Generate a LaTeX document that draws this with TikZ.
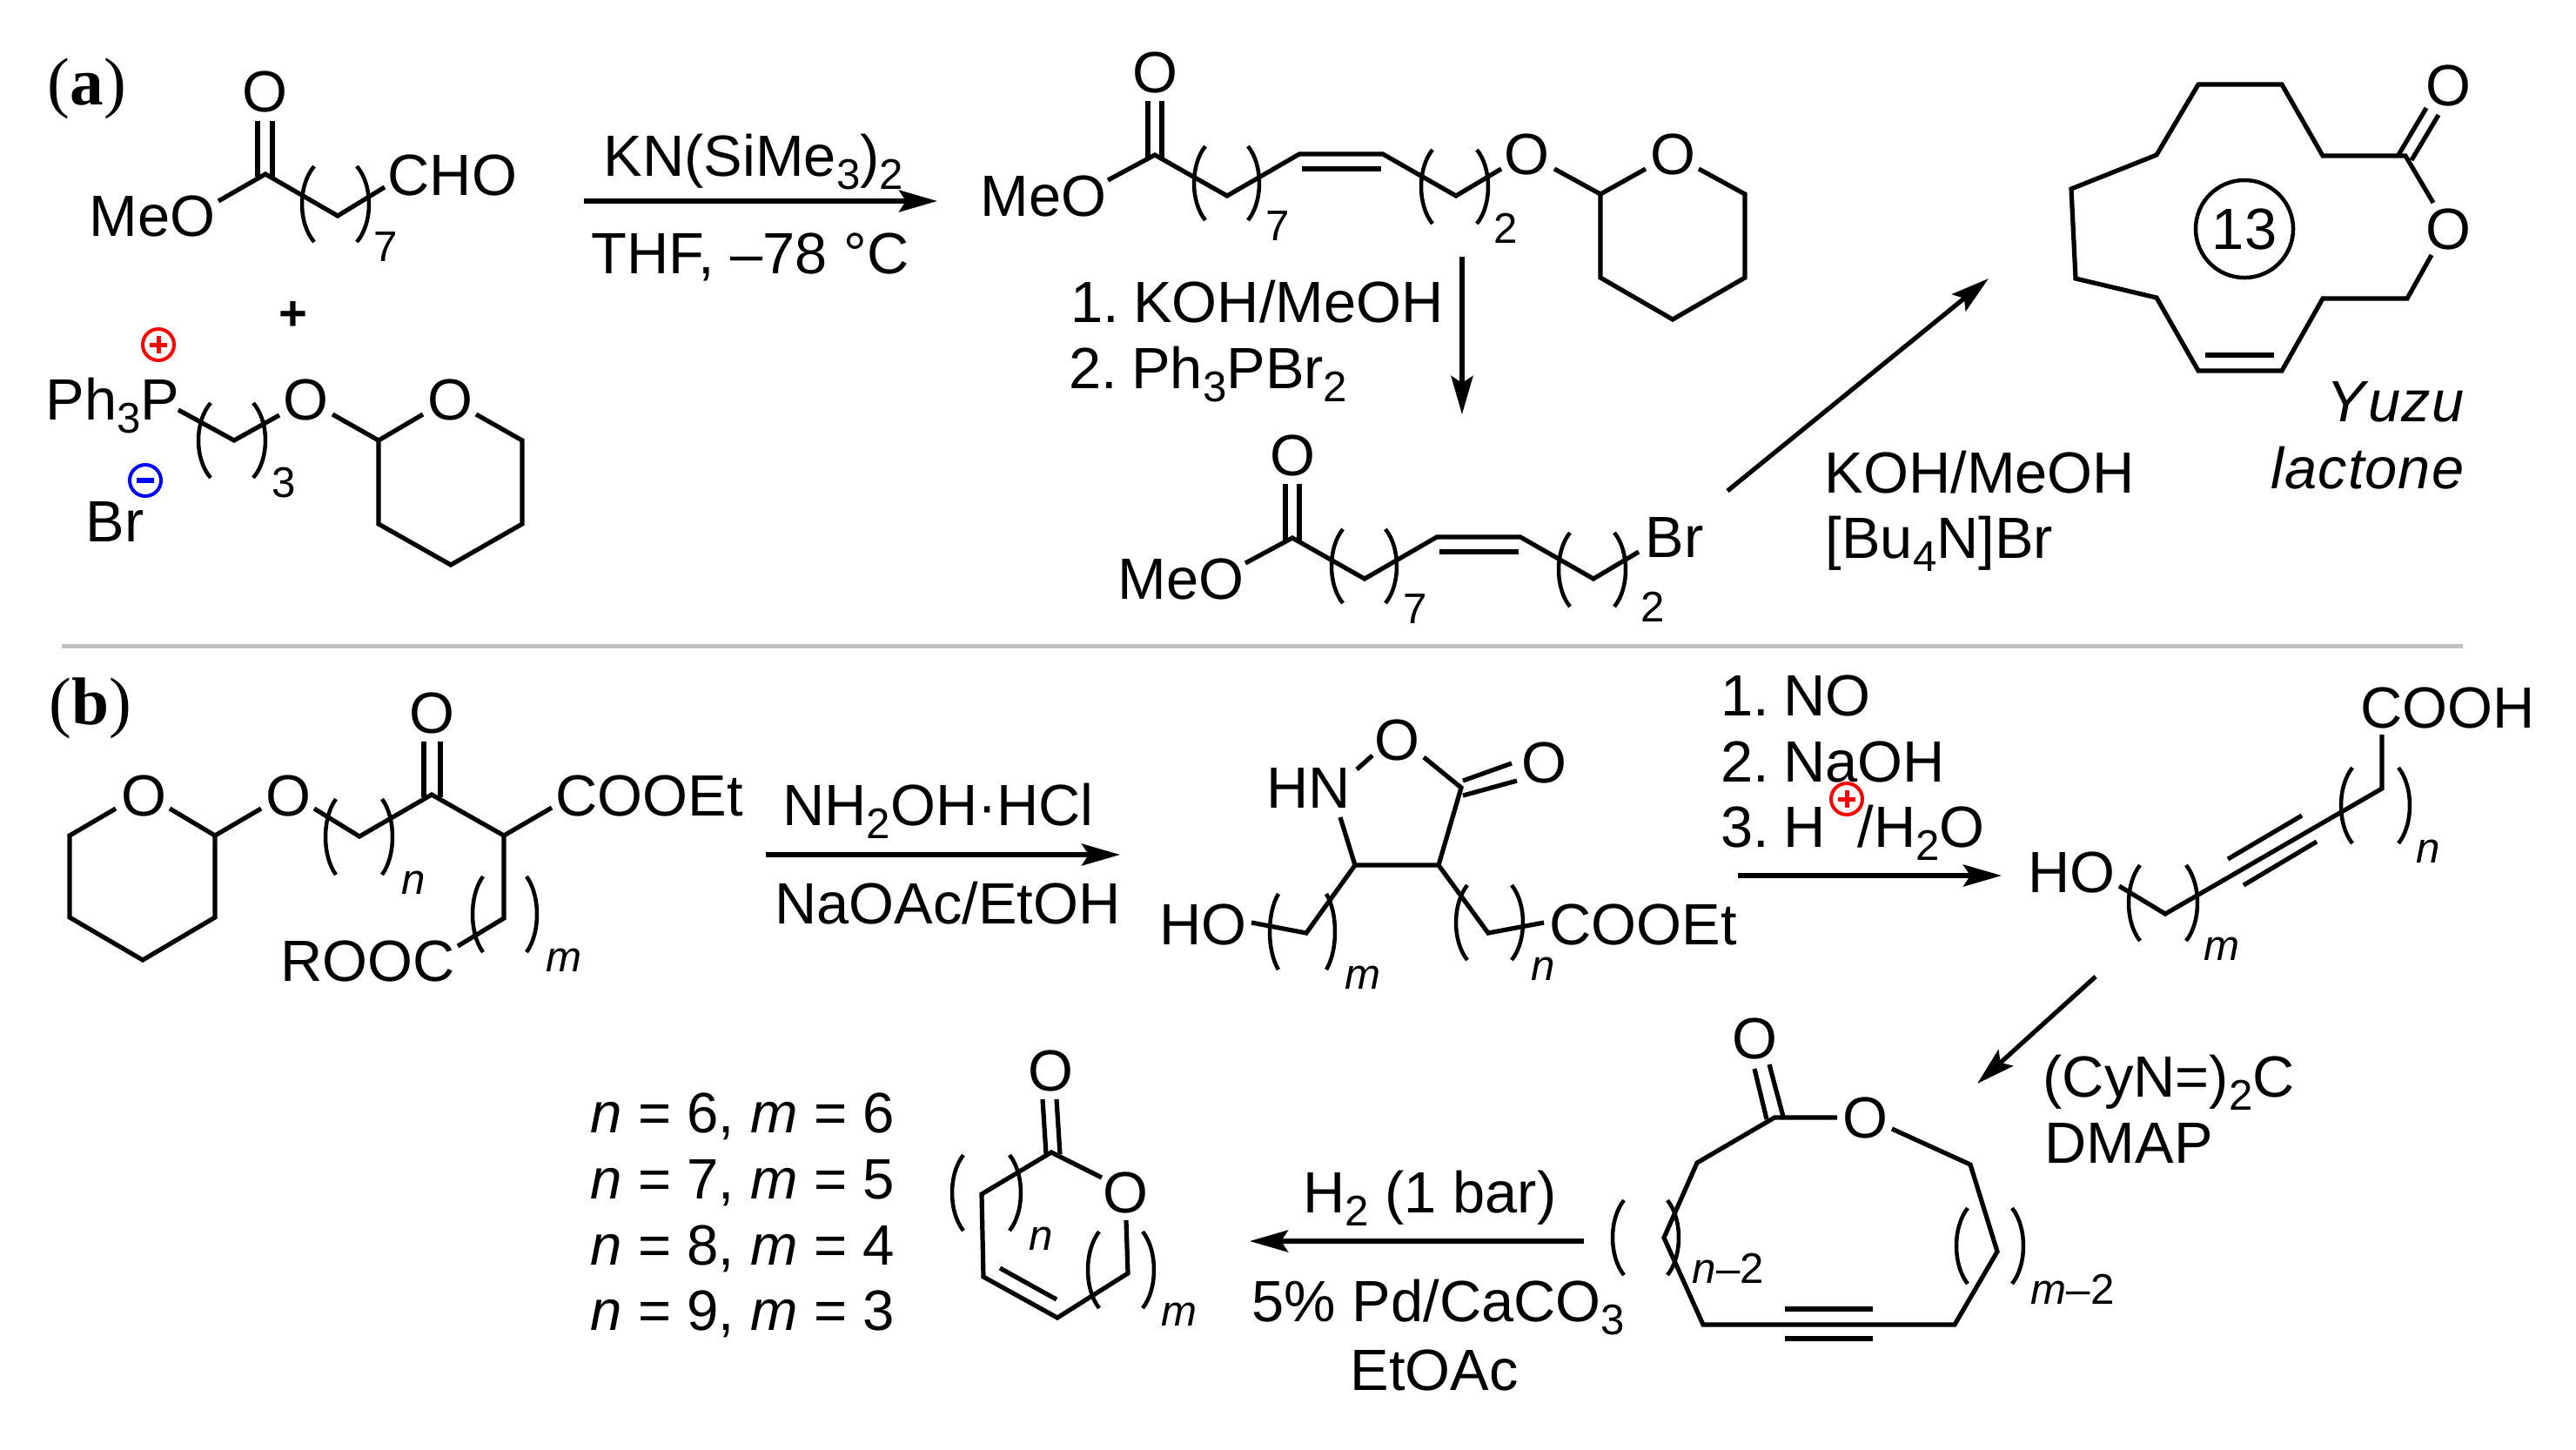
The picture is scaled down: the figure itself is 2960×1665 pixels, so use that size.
\documentclass[tikz,border=0pt]{standalone}
\usepackage{fontspec}
\setmainfont{Liberation Sans}
\newfontfamily\tagfont{Liberation Serif}
\usetikzlibrary{arrows.meta}

\definecolor{sepgray}{RGB}{191,191,191}

\tikzset{
    bond/.style={line width=.052cm, line join=miter},
    brk/.style={line width=.045cm},
    rxn/.style={line width=.052cm, -{Stealth[length=.44cm, width=.25cm, inset=.08cm]}},
    atom/.style={anchor=base west, inner sep=0pt, font=\fontsize{19}{22}\selectfont},
    atomc/.style={atom, anchor=base},
    vals/.style={atom, font=\fontsize{18.6}{22}\selectfont},
    idx/.style={anchor=base west, inner sep=0pt, font=\fontsize{14}{14}\selectfont},
    idxit/.style={idx, font=\fontsize{14}{14}\selectfont\itshape},
    tag/.style={anchor=base west, inner sep=0pt, font=\fontsize{22}{24}\selectfont\tagfont},
    trivial/.style={atom, anchor=base east, font=\fontsize{19}{22}\selectfont\itshape\addfontfeatures{LetterSpace=1.5}},
}

% subscript inside a label
\newcommand{\sbs}[1]{\raisebox{-.23em}{\fontsize{14}{14}\selectfont #1}}
% gap after the number of a numbered step
\newcommand{\stepgap}{\hspace{.16cm}}
% pair of brackets: x left, x right, y top, y bottom, bulge
\newcommand{\brackets}[5]{
    \draw[brk] (#1,#3) .. controls ({#1-1.33*#5},{#3+(#4-#3)/4}) and ({#1-1.33*#5},{#4-(#4-#3)/4}) .. (#1,#4);
    \draw[brk] (#2,#3) .. controls ({#2+1.33*#5},{#3+(#4-#3)/4}) and ({#2+1.33*#5},{#4-(#4-#3)/4}) .. (#2,#4);
}
% charge signs
\newcommand{\chargeplus}[2]{
    \draw[line width=.04cm, red] (#1,#2) circle (.18cm);
    \draw[line width=.05cm, red] (#1-10,#2) -- (#1+10,#2) (#1,#2-10) -- (#1,#2+10);
}
\newcommand{\chargeminus}[2]{
    \draw[line width=.04cm, blue] (#1,#2) circle (.18cm);
    \draw[line width=.055cm, blue] (#1-10,#2) -- (#1+10,#2);
}
% unsaturated ester shared by two of the compounds
\newcommand{\esterchain}{
    \node[atomc] (carbonylO) at (1327,106) {O};
    \node[atom] (meo) at (1126,248) {MeO};
    \draw[bond] (1319,116) -- (1319,181);
    \draw[bond] (1335,116) -- (1335,181);
    \draw[bond] (1273,207) -- (1327,178) -- (1410,225) -- (1493,177) -- (1589,177) -- (1673,225) -- (1725,194);
    \draw[bond] (1496,194) -- (1587,194);
    \brackets{1385}{1434}{168}{253}{13}
    \brackets{1646}{1697}{172}{257}{13}
    \node[idx] (countseven) at (1454,276) {7};
}

\begin{document}
\begin{tikzpicture}[x=.01cm, y=-.01cm]
    \useasboundingbox (0,0) rectangle (2960,1665);

    % separator
    \coordinate (sepL) at (71,742);
    \coordinate (sepR) at (2830,742);
    \draw[sepgray, line width=.05cm] (sepL) -- (sepR);

    % part a
    \node[tag] (tagA) at (54,120) {(\textbf{a})};

    % aldehyde
    \node[atomc] (aldO) at (304,128) {O};
    \node[atom] (aldMeO) at (102,271) {MeO};
    \node[atom] (cho) at (445,224) {CHO};
    \draw[bond] (296,139) -- (296,203);
    \draw[bond] (313,139) -- (313,203);
    \draw[bond] (251,231) -- (305,200) -- (388,248) -- (442,215);
    \brackets{361}{410}{191}{278}{14}
    \node[idx] (aldCount) at (429,300) {7};

    \node[font=\fontsize{16}{18}\selectfont\bfseries, inner sep=0pt] (plus) at (337,363) {+};

    % phosphonium salt
    \chargeplus{182}{396}
    \node[atom] (phos) at (52,482) {Ph\sbs{3}P};
    \node[atomc] (phosO) at (351,482) {O};
    \draw[bond] (205,471) -- (269,506) -- (321,477);
    \brackets{242}{291}{463}{549}{14}
    \node[idx] (phosCount) at (312,571) {3};
    \chargeminus{167}{552}
    \node[atom] (bromide) at (98,622) {Br};
    \node[atomc] (pyranO) at (517,482) {O};
    \draw[bond] (382,476) -- (435,506) -- (486,476);
    \draw[bond] (547,476) -- (600,506) -- (600,602) -- (518,649) -- (435,602) -- (435,506);

    % first step
    \coordinate (stepAs) at (671,231);
    \coordinate (stepAe) at (1077,231);
    \draw[rxn] (stepAs) -- (stepAe);
    \node[atomc] (stepAtop) at (866,202) {KN(SiMe\sbs{3})\sbs{2}};
    \node[atomc] (stepAbot) at (862,314) {THF, –78 °C};

    % ether product
    \begin{scope}[name prefix=ether-]
        \esterchain
    \end{scope}
    \node[idx] (etherTwo) at (1716,279) {2};
    \node[atomc] (etherO) at (1754,200) {O};
    \node[atomc] (etherRingO) at (1922,200) {O};
    \draw[bond] (1786,194) -- (1839,223) -- (1891,194);
    \draw[bond] (1952,194) -- (2005,223) -- (2005,319) -- (1922,367) -- (1839,319) -- (1839,223);

    % second step
    \coordinate (stepBs) at (1680,295);
    \coordinate (stepBe) at (1680,476);
    \draw[rxn] (stepBs) -- (stepBe);
    \node[atom] (stepBone) at (1230,370) {1.\stepgap KOH/MeOH};
    \node[atom] (stepBtwo) at (1228,446) {2.\stepgap Ph\sbs{3}PBr\sbs{2}};

    % bromide product
    \begin{scope}[shift={(158,440)}, name prefix=bromo-]
        \esterchain
    \end{scope}
    \node[idx] (bromoTwo) at (1885,714) {2};
    \node[atom] (bromoBr) at (1890,640) {Br};

    % third step
    \coordinate (stepCs) at (1985,564);
    \coordinate (stepCe) at (2285,320);
    \draw[rxn] (stepCs) -- (stepCe);
    \node[atom] (stepCtop) at (2096,566) {KOH/MeOH};
    \node[atom] (stepCbot) at (2097,641) {[Bu\sbs{4}N]Br};

    % yuzu lactone
    \node[atomc] (yuzuCO) at (2813,121) {O};
    \node[atomc] (yuzuO) at (2813,286) {O};
    \draw[bond] (2794,293) -- (2766,343) -- (2669,343) -- (2622,426) -- (2526,426) -- (2478,342) -- (2385,320)
                -- (2380,217) -- (2478,178) -- (2526,97) -- (2622,97) -- (2669,179) -- (2764,179) -- (2796,233);
    \draw[bond] (2534,408) -- (2613,408);
    \draw[bond] (2756,178) -- (2788,124);
    \draw[bond] (2771,184) -- (2802,132);
    \node[draw, circle, line width=.045cm, minimum size=1.12cm, inner sep=0pt, font=\fontsize{19}{22}\selectfont] (ringsize) at (2579,263) {13};
    \node[trivial] (yuzu) at (2832,484) {Y\kern1pt uzu};
    \node[trivial] (lactone) at (2832,561) {lactone};

    % part b
    \node[tag] (tagB) at (56,832) {(\textbf{b})};

    % keto ester
    \node[atomc] (ketoRingO) at (165,937) {O};
    \node[atomc] (ketoEtherO) at (331,937) {O};
    \node[atomc] (ketoO) at (496,842) {O};
    \node[atom] (ketoEt) at (638,937) {COOEt};
    \node[atom] (ketoR) at (322,1127) {ROOC};
    \draw[bond] (195,929) -- (247,960) -- (300,929);
    \draw[bond] (133,929) -- (80,960) -- (80,1054) -- (164,1103) -- (247,1054) -- (247,960);
    \draw[bond] (361,929) -- (413,961) -- (496,913) -- (579,960) -- (634,928);
    \draw[bond] (579,960) -- (579,1055) -- (526,1087);
    \draw[bond] (487,852) -- (487,916);
    \draw[bond] (506,852) -- (506,916);
    \brackets{386}{439}{918}{1005}{12}
    \brackets{555}{605}{1007}{1094}{12}
    \node[idxit] (ketoN) at (461,1027) {n};
    \node[idxit] (ketoM) at (627,1116) {m};

    % oximation step
    \coordinate (stepDs) at (880,982);
    \coordinate (stepDe) at (1287,982);
    \draw[rxn] (stepDs) -- (stepDe);
    \node[atomc] (stepDtop) at (1078,948) {NH\sbs{2}OH·HCl};
    \node[atomc] (stepDbot) at (1089,1061) {NaOAc/EtOH};

    % isoxazolidinone
    \node[atomc] (isoO) at (1605,873) {O};
    \node[atomc] (isoCO) at (1774,899) {O};
    \node[atom] (isoHN) at (1455,928) {HN};
    \node[atom] (isoHO) at (1332,1085) {HO};
    \node[atom] (isoEt) at (1780,1085) {COOEt};
    \draw[bond] (1559,884) -- (1577,868);
    \draw[bond] (1636,870) -- (1679,905) -- (1653,994) -- (1557,994) -- (1540,939);
    \draw[bond] (1681,897) -- (1737,877);
    \draw[bond] (1681,914) -- (1743,897);
    \draw[bond] (1438,1060) -- (1501,1072) -- (1557,994);
    \draw[bond] (1653,994) -- (1710,1072) -- (1774,1060);
    \brackets{1469}{1524}{1027}{1114}{10}
    \brackets{1686}{1737}{1017}{1103}{13}
    \node[idxit] (isoM) at (1545,1136) {m};
    \node[idxit] (isoN) at (1759,1126) {n};

    % ring opening step
    \coordinate (stepEs) at (1997,1006);
    \coordinate (stepEe) at (2300,1006);
    \draw[rxn] (stepEs) -- (stepEe);
    \node[atom] (stepEone) at (1977,822) {1.\stepgap NO};
    \node[atom] (stepEtwo) at (1977,898) {2.\stepgap NaOH};
    \node[atom] (stepEthree) at (1977,973) {3.\stepgap H\hspace{.37cm}/H\sbs{2}O};
    \chargeplus{2122}{918}

    % alkyne acid
    \node[atom] (acidHO) at (2330,1025) {HO};
    \node[atom] (acidCOOH) at (2712,836) {COOH};
    \draw[bond] (2435,1018) -- (2488,1050) -- (2737,906) -- (2737,844);
    \draw[bond] (2560,987) -- (2645,937);
    \draw[bond] (2578,1017) -- (2662,967);
    \brackets{2703}{2756}{882}{969}{13}
    \brackets{2459}{2512}{994}{1081}{13}
    \node[idxit] (acidN) at (2776,991) {n};
    \node[idxit] (acidM) at (2532,1103) {m};

    % lactonization step
    \coordinate (stepFs) at (2408,1122);
    \coordinate (stepFe) at (2272,1245);
    \draw[rxn] (stepFs) -- (stepFe);
    \node[atom] (stepFtop) at (2347,1260) {(CyN=)\sbs{2}C};
    \node[atom] (stepFbot) at (2349,1336) {DMAP};

    % macrocyclic alkyne
    \node[atomc] (macroCO) at (2016,1216) {O};
    \node[atomc] (macroO) at (2143,1307) {O};
    \draw[bond] (2111,1284) -- (2039,1284) -- (1950,1336) -- (1912,1422) -- (1957,1522) -- (2246,1522) -- (2295,1438) -- (2264,1338) -- (2174,1297);
    \draw[bond] (2016,1228) -- (2030,1286);
    \draw[bond] (2033,1223) -- (2049,1283);
    \draw[bond] (2051,1504) -- (2152,1504);
    \draw[bond] (2051,1538) -- (2152,1538);
    \brackets{1866}{1916}{1379}{1465}{13}
    \brackets{2261}{2312}{1388}{1475}{13}
    \node[idx] (macroN) at (1944,1474) {\textit{n}–2};
    \node[idx] (macroM) at (2333,1498) {\textit{m}–2};

    % hydrogenation step
    \coordinate (stepGs) at (1820,1426);
    \coordinate (stepGe) at (1436,1426);
    \draw[rxn] (stepGs) -- (stepGe);
    \node[atomc] (stepGtop) at (1643,1393) {H\sbs{2} (1 bar)};
    \node[atomc] (stepGmid) at (1653,1518) {5\% Pd/CaCO\sbs{3}};
    \node[atomc] (stepGbot) at (1648,1597) {EtOAc};

    % final lactone
    \node[atomc] (finalCO) at (1207,1253) {O};
    \node[atomc] (finalO) at (1293,1393) {O};
    \draw[bond] (1266,1353) -- (1208,1324) -- (1128,1372) -- (1130,1467) -- (1215,1514) -- (1296,1463) -- (1294,1402);
    \draw[bond] (1198,1263) -- (1202,1326);
    \draw[bond] (1214,1263) -- (1218,1326);
    \draw[bond] (1149,1457) -- (1214,1493);
    \brackets{1107}{1160}{1327}{1414}{13}
    \brackets{1263}{1313}{1415}{1503}{13}
    \node[idxit] (finalN) at (1182,1436) {n};
    \node[idxit] (finalM) at (1334,1523) {m};

    % values of n and m
    \node[vals] (valsA) at (678,1301) {\textit{n} = 6, \textit{m} = 6};
    \node[vals] (valsB) at (678,1377) {\textit{n} = 7, \textit{m} = 5};
    \node[vals] (valsC) at (678,1453) {\textit{n} = 8, \textit{m} = 4};
    \node[vals] (valsD) at (678,1528) {\textit{n} = 9, \textit{m} = 3};
\end{tikzpicture}
\end{document}
